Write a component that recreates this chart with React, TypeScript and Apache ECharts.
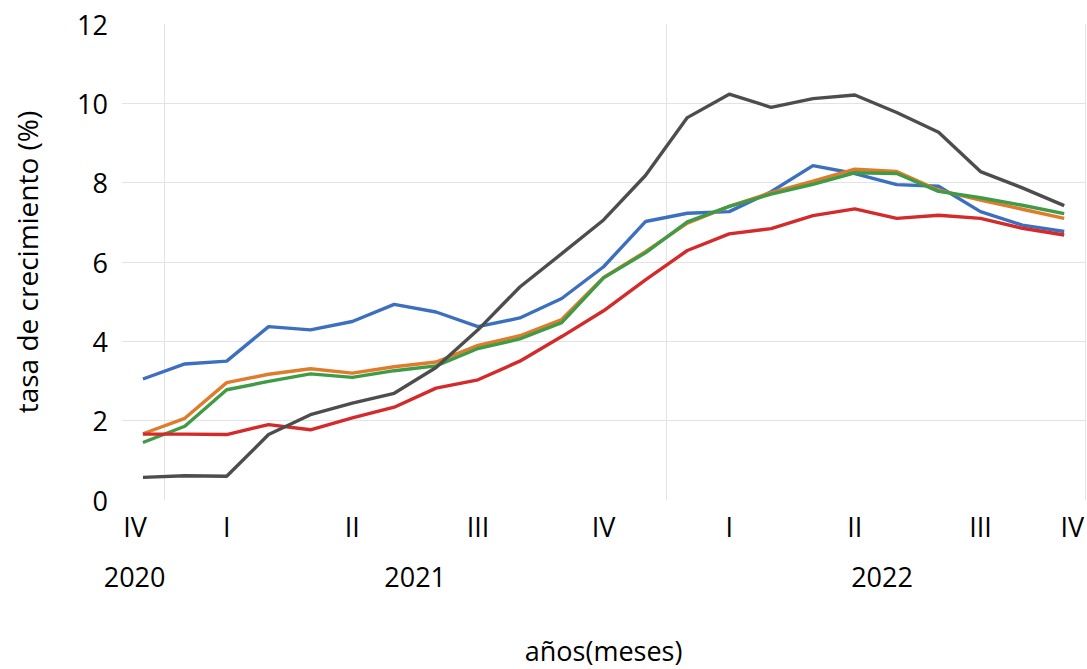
import React, { useEffect, useRef } from "react";
import * as echarts from "echarts";

const months = [
  "dic 2020",
  "ene 2021", "feb 2021", "mar 2021", "abr 2021", "may 2021", "jun 2021",
  "jul 2021", "ago 2021", "sep 2021", "oct 2021", "nov 2021", "dic 2021",
  "ene 2022", "feb 2022", "mar 2022", "abr 2022", "may 2022", "jun 2022",
  "jul 2022", "ago 2022", "sep 2022", "oct 2022",
];

const quarterLabels = [
  "IV", "", "I", "", "", "II", "", "", "III", "", "", "IV", "",
  "", "I", "", "", "II", "", "", "III", "", "IV",
];

const yearLabels = ["2020", "2021", "2022"];
const yearPositions = [-0.2, 6.5, 17.65];

const blueSeries = [3.05, 3.43, 3.5, 4.37, 4.29, 4.5, 4.93, 4.74, 4.37, 4.59, 5.08, 5.88, 7.02, 7.23, 7.27, 7.77, 8.43, 8.23, 7.95, 7.91, 7.27, 6.93, 6.77];
const orangeSeries = [1.67, 2.06, 2.96, 3.17, 3.31, 3.2, 3.36, 3.48, 3.9, 4.14, 4.55, 5.61, 6.26, 6.98, 7.4, 7.75, 8.04, 8.34, 8.28, 7.81, 7.56, 7.33, 7.1];
const greenSeries = [1.45, 1.86, 2.78, 2.99, 3.18, 3.09, 3.26, 3.38, 3.82, 4.06, 4.47, 5.6, 6.23, 7.01, 7.4, 7.71, 7.96, 8.25, 8.23, 7.78, 7.62, 7.43, 7.22];
const redSeries = [1.66, 1.66, 1.65, 1.9, 1.77, 2.07, 2.34, 2.82, 3.03, 3.5, 4.12, 4.77, 5.55, 6.29, 6.71, 6.84, 7.17, 7.34, 7.1, 7.18, 7.1, 6.85, 6.68];
const graySeries = [0.57, 0.61, 0.6, 1.65, 2.15, 2.44, 2.69, 3.34, 4.29, 5.37, 6.21, 7.06, 8.18, 9.64, 10.23, 9.9, 10.12, 10.21, 9.77, 9.27, 8.28, 7.87, 7.42];

const FONT = "'Open Sans', 'Noto Sans', sans-serif";
const FS = 27;

export default function App() {
  const ref = useRef<HTMLDivElement>(null);

  useEffect(() => {
    if (!ref.current) return;
    const chart = echarts.init(ref.current, null, { renderer: "svg" });
    const mk = (name: string, data: number[], color: string) => ({
      name,
      type: "line",
      data,
      showSymbol: false,
      symbol: "none",
      lineStyle: { color, width: 3.4 },
      itemStyle: { color },
      xAxisIndex: 0,
      yAxisIndex: 0,
    });
    chart.setOption({
      animation: false,
      backgroundColor: "#ffffff",
      textStyle: { fontFamily: FONT },
      grid: { left: 122, right: 0, top: 24, bottom: 159, containLabel: false },
      xAxis: [
        {
          type: "category",
          data: months,
          boundaryGap: true,
          position: "bottom",
          axisLine: { show: false },
          axisTick: { show: false },
          name: "años(meses)",
          nameLocation: "middle",
          nameGap: 137,
          nameTextStyle: { fontSize: FS, color: "#000", fontFamily: FONT },
          splitLine: {
            show: true,
            interval: (idx: number) => idx === 1 || idx === 13,
            lineStyle: { color: "#e3e3e3", width: 1 },
          },
          axisLabel: {
            interval: 0,
            margin: 13,
            fontSize: FS,
            color: "#000",
            fontFamily: FONT,
            formatter: (_v: string, idx: number) => {
              const t = quarterLabels[idx];
              if (!t) return "";
              if (idx === 0) return `{a|${t}}`;
              if (idx === quarterLabels.length - 1) return `{b|${t}}`;
              return t;
            },
            rich: {
              a: { fontSize: FS, color: "#000", fontFamily: FONT, padding: [0, 16, 0, 0] },
              b: { fontSize: FS, color: "#000", fontFamily: FONT, padding: [0, 0, 0, 16] },
            },
          },
        },
        {
          type: "value",
          min: -0.5,
          max: 22.5,
          position: "bottom",
          axisLine: { show: false },
          axisTick: { show: false },
          splitLine: { show: false },
          axisLabel: {
            customValues: yearPositions,
            margin: 63,
            fontSize: FS,
            color: "#000",
            fontFamily: FONT,
            formatter: (v: number) => {
              const i = yearPositions.indexOf(v);
              return i >= 0 ? yearLabels[i] : "";
            },
          },
        },
      ],
      yAxis: {
        type: "value",
        min: 0,
        max: 12,
        interval: 2,
        axisLine: { show: false },
        axisTick: { show: false },
        name: "tasa de crecimiento (%)",
        nameLocation: "middle",
        nameGap: 81,
        nameRotate: 90,
        nameTextStyle: { fontSize: 28, color: "#000", fontFamily: FONT },
        axisLabel: { margin: 14, fontSize: FS, color: "#000", fontFamily: FONT },
        splitLine: {
          show: true,
          showMinLine: false,
          showMaxLine: false,
          lineStyle: { color: "#e3e3e3", width: 1 },
        },
      },
      series: [
        mk("Serie 1", blueSeries, "#3d6fbf"),
        mk("Serie 2", orangeSeries, "#e07b2c"),
        mk("Serie 3", greenSeries, "#3f9b45"),
        mk("Serie 4", redSeries, "#d42a2a"),
        mk("Serie 5", graySeries, "#4d4d4d"),
      ],
    });
    return () => chart.dispose();
  }, []);

  return (
    <div
      ref={ref}
      style={{ position: "absolute", left: 0, top: 0, width: 1087, height: 669 }}
    />
  );
}
